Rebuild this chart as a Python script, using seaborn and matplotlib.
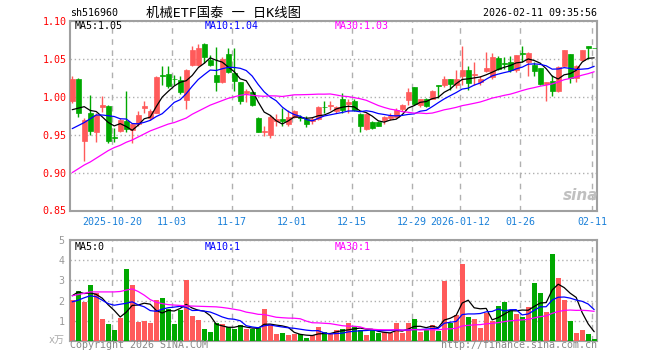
import numpy as np
import pandas as pd
import matplotlib
matplotlib.use("Agg")
import matplotlib.pyplot as plt
import seaborn as sns

# ---------------- data ----------------
holidays = ["2026-01-01", "2026-01-02"]
opens = [0.994, 1.024, 0.942, 0.978, 0.953, 0.986, 0.988, 0.947, 0.955, 0.968,
         0.956, 0.964, 0.985, 0.972, 0.979, 1.029, 1.030, 1.024, 1.022, 0.996,
         1.042, 1.042, 1.070, 1.049, 1.029, 1.020, 1.057, 1.031, 1.019, 1.005,
         1.006, 0.972, 0.954, 0.9495, 0.9675, 0.971, 0.9636, 0.9737, 0.974, 0.971,
         0.968, 0.971, 0.987, 0.988, 0.9811, 0.9974, 0.991, 0.9943, 0.977, 0.958,
         0.9667, 0.9667, 0.969, 0.972, 0.9737, 0.9833, 0.9956, 1.013, 0.9886, 0.9965,
         0.9974, 1.015, 1.016, 1.0237, 1.016, 1.028, 1.035, 1.029, 1.0193, 1.0338,
         1.026, 1.0513, 1.0443, 1.0456, 1.035, 1.0575, 1.0456, 1.0425, 1.038, 1.0163,
         1.0215, 1.0075, 1.041, 1.057, 1.025, 1.048, 1.0675, 1.065]
highs = [1.028, 1.025, 0.972, 1.002, 0.978, 1.001, 0.989, 0.959, 0.972, 1.007,
         0.966, 0.981, 0.994, 0.984, 1.027, 1.040, 1.041, 1.029, 1.027, 1.037,
         1.067, 1.069, 1.071, 1.055, 1.066, 1.053, 1.064, 1.064, 1.020, 1.0105,
         1.008, 0.974, 0.961, 0.976, 0.977, 0.9855, 0.983, 0.982, 0.9754, 0.9746,
         0.973, 0.988, 0.994, 0.994, 0.988, 1.0044, 0.997, 0.997, 0.978, 0.978,
         0.968, 0.968, 0.975, 0.978, 0.985, 0.990, 1.012, 1.0135, 0.997, 0.9987,
         1.009, 1.016, 1.027, 1.024, 1.035, 1.067, 1.041, 1.0456, 1.027, 1.059,
         1.058, 1.0535, 1.0526, 1.054, 1.0557, 1.0667, 1.059, 1.0456, 1.038, 1.0193,
         1.029, 1.041, 1.0623, 1.057, 1.0425, 1.0623, 1.0675, 1.065]
lows = [0.992, 0.974, 0.915, 0.950, 0.940, 0.980, 0.939, 0.940, 0.953, 0.953,
        0.939, 0.962, 0.979, 0.969, 0.978, 1.016, 1.012, 1.015, 1.004, 0.984,
        1.040, 1.040, 1.045, 1.040, 1.007, 1.018, 1.031, 1.0075, 0.991, 0.993,
        0.988, 0.953, 0.948, 0.946, 0.962, 0.961, 0.962, 0.972, 0.968, 0.960,
        0.964, 0.969, 0.979, 0.983, 0.979, 0.979, 0.979, 0.981, 0.9535, 0.956,
        0.957, 0.961, 0.9636, 0.970, 0.972, 0.981, 0.9886, 0.9886, 0.987, 0.987,
        0.9965, 0.9987, 1.013, 1.0096, 1.012, 1.016, 1.009, 1.016, 1.016, 1.0325,
        1.024, 1.035, 1.0368, 1.0325, 1.033, 1.0456, 1.0272, 1.027, 1.016, 0.994,
        1.001, 1.006, 1.040, 1.0184, 1.0193, 1.047, 1.050, 1.064]
closes = [1.024, 0.979, 0.969, 0.955, 0.976, 0.989, 0.942, 0.946, 0.970, 0.957,
          0.964, 0.976, 0.988, 0.981, 1.026, 1.027, 1.014, 1.023, 1.006, 1.036,
          1.062, 1.065, 1.052, 1.042, 1.020, 1.050, 1.0325, 1.0215, 0.995, 1.007,
          0.9886, 0.9535, 0.955, 0.9737, 0.971, 0.9675, 0.9737, 0.981, 0.9724, 0.9636,
          0.971, 0.987, 0.986, 0.989, 0.9868, 0.9825, 0.993, 0.9825, 0.9614, 0.9768,
          0.959, 0.962, 0.9737, 0.975, 0.9825, 0.9886, 1.006, 0.990, 0.9965, 0.9877,
          1.0075, 1.0145, 1.0237, 1.0175, 1.0237, 1.035, 1.0184, 1.030, 1.0237, 1.038,
          1.052, 1.037, 1.0439, 1.035, 1.0557, 1.057, 1.058, 1.0338, 1.0175, 1.0193,
          1.0075, 1.0395, 1.0614, 1.025, 1.041, 1.062, 1.0645, 1.0645]
volumes = [2.02, 2.47, 1.92, 2.76, 2.37, 1.08, 0.83, 0.53, 1.13, 3.56,
           2.76, 0.93, 0.98, 0.88, 2.02, 2.12, 1.57, 0.83, 1.52, 3.01,
           1.23, 1.03, 0.58, 0.43, 0.88, 0.83, 0.68, 0.58, 0.78, 0.58,
           0.58, 0.63, 1.57, 0.83, 0.33, 0.38, 0.28, 0.33, 0.33, 0.13,
           0.28, 0.68, 0.43, 0.33, 0.53, 0.58, 0.88, 0.68, 0.53, 0.28,
           0.53, 0.38, 0.43, 0.38, 0.88, 0.38, 0.88, 1.08, 0.43, 0.53,
           0.78, 0.48, 2.96, 0.88, 1.27, 3.81, 1.18, 1.08, 0.63, 1.37,
           0.98, 1.72, 1.92, 1.52, 1.32, 1.18, 1.67, 2.86, 2.37, 1.42,
           4.30, 3.11, 2.02, 0.98, 0.38, 0.53, 0.33, 0.08]

ma5_head = [0.983, 0.985, 0.987, 0.982]
ma10_head = [0.958, 0.962, 0.966, 0.971, 0.976, 0.976, 0.975, 0.974, 0.971]
ma30_head = [0.900, 0.905, 0.910, 0.914, 0.919, 0.924, 0.929, 0.933, 0.936, 0.940,
             0.943, 0.947, 0.951, 0.955, 0.958, 0.961, 0.964, 0.966, 0.969, 0.972,
             0.977, 0.981, 0.985, 0.989, 0.992, 0.995, 0.998, 1.000, 1.002]
vma5_head = [2.24, 2.43, 2.35, 2.38]
vma10_head = [1.94, 2.02, 2.14, 2.24, 2.19, 2.02, 1.85, 1.77, 1.82]
vma30_head = [2.24, 2.30, 2.36, 2.43, 2.43, 2.43, 2.43, 2.43, 2.45, 2.52,
              2.58, 2.45, 2.27, 2.05, 1.92, 1.85, 1.80, 1.78, 1.76, 1.74,
              1.73, 1.72, 1.71, 1.70, 1.69, 1.66, 1.62, 1.57, 1.52]

tick_dates = ["2025-10-20", "2025-11-03", "2025-11-17", "2025-12-01", "2025-12-15",
              "2025-12-29", "2026-01-12", "2026-01-26", "2026-02-11"]
tick_labels = ["2025-10-20", "11-03", "11-17", "12-01", "12-15",
               "12-29", "2026-01-12", "01-26", "02-11"]
price_ticks = [0.85, 0.90, 0.95, 1.00, 1.05, 1.10]
vol_ticks = [1, 2, 3, 4, 5]

# ---------------- prep ----------------
dates = pd.bdate_range("2025-10-09", "2026-02-11")
dates = dates[~dates.isin(pd.to_datetime(holidays))]
x = np.arange(len(dates))
O = np.array(opens); H = np.array(highs); L = np.array(lows); C = np.array(closes)
V = np.array(volumes)


def ma(arr, n, head):
    out = pd.Series(arr).rolling(n).mean().to_numpy()
    out[:len(head)] = head
    return out


ma5 = ma(C, 5, ma5_head); ma10 = ma(C, 10, ma10_head); ma30 = ma(C, 30, ma30_head)
vma5 = ma(V, 5, vma5_head); vma10 = ma(V, 10, vma10_head); vma30 = ma(V, 30, vma30_head)

RED = "#ff5a5a"
GREEN = "#00a800"
up = C >= O
colors = np.where(up, RED, GREEN)

sns.set_style("white")
plt.rcParams["font.family"] = ["DejaVu Sans Mono", "Noto Sans CJK SC"]
FS = 7.2

W, Hh = 660, 360
fig = plt.figure(figsize=(6.6, 3.6), dpi=100)


def fx(px):
    return px / W


def fy(py):
    return 1 - py / Hh


ax1 = fig.add_axes([fx(70), fy(210.5), (597 - 70) / W, 189.5 / Hh])
ax2 = fig.add_axes([fx(70), fy(341), (597 - 70) / W, 101 / Hh])

tick_idx = [int(np.where(dates == pd.Timestamp(d))[0][0]) - 0.33 for d in tick_dates]

for ax in (ax1, ax2):
    ax.set_xlim(-0.37, 87.47)
    for s in ax.spines.values():
        s.set_color("#a0a0a0")
        s.set_linewidth(1.5)
    ax.set_xticks(tick_idx)
    ax.grid(axis="x", color="#b0b0b0", linestyle=(0, (4, 4)), linewidth=1)
    ax.grid(axis="y", color="#b0b0b0", linestyle=(0, (1, 2)), linewidth=1)
    ax.tick_params(length=0)
    ax.set_axisbelow(True)

# candles
ax1.vlines(x, L, H, colors=colors, linewidth=1, zorder=2)
ax1.bar(x, np.abs(C - O), bottom=np.minimum(O, C), width=0.8, color=colors,
        edgecolor=colors, linewidth=0.5, zorder=3)
sns.lineplot(x=x, y=ma5, ax=ax1, color="black", linewidth=0.9, zorder=4)
sns.lineplot(x=x, y=ma10, ax=ax1, color="#0000ff", linewidth=0.9, zorder=4)
sns.lineplot(x=x, y=ma30, ax=ax1, color="#ff00ff", linewidth=0.9, zorder=4)
ax1.set_ylim(0.85, 1.10)
ax1.set_yticks(price_ticks)
ax1.set_yticklabels([f"{v:.2f}" for v in price_ticks], color="#ff0000", fontsize=FS)
ax1.set_xticklabels(tick_labels, color="#1a80d9", fontsize=FS)
ax1.tick_params(axis="y", pad=2.5)
ax1.tick_params(axis="x", pad=4.5)
ax1.set_xlabel(""); ax1.set_ylabel("")

# volume
ax2.bar(x, V, width=0.8, color=colors, linewidth=0, zorder=3)
sns.lineplot(x=x, y=vma5, ax=ax2, color="black", linewidth=0.9, zorder=4)
sns.lineplot(x=x, y=vma10, ax=ax2, color="#0000ff", linewidth=0.9, zorder=4)
sns.lineplot(x=x, y=vma30, ax=ax2, color="#ff00ff", linewidth=0.9, zorder=4)
ax2.set_ylim(0, 5)
ax2.set_yticks(vol_ticks)
ax2.set_yticklabels([str(v) for v in vol_ticks], color="#999999", fontsize=FS)
ax2.set_xticklabels([])
ax2.tick_params(axis="y", pad=4)
ax2.set_xlabel(""); ax2.set_ylabel("")

# texts
fig.text(fx(70), fy(13.3), "sh516960", fontsize=FS, va="center", ha="left", color="black")
fig.text(fx(224), fy(13), "机械ETF国泰 一 日K线图", fontsize=9.6, va="center", ha="center",
         color="black")
fig.text(fx(597), fy(13.3), "2026-02-11 09:35:56", fontsize=FS, va="center", ha="right",
         color="black")
fig.text(fx(75), fy(25.7), f"MA5:{ma5[-1]:.2f}", fontsize=FS, va="center", color="black")
fig.text(fx(204.7), fy(25.7), f"MA10:{ma10[-1]:.2f}", fontsize=FS, va="center", color="#0000ff")
fig.text(fx(335), fy(25.7), f"MA30:{ma30[-1]:.2f}", fontsize=FS, va="center", color="#ff00ff")
fig.text(fx(75), fy(246.5), f"MA5:{int(vma5[-1])}", fontsize=FS, va="center", color="black")
fig.text(fx(204.7), fy(246.5), f"MA10:{int(vma10[-1])}", fontsize=FS, va="center", color="#0000ff")
fig.text(fx(335), fy(246.5), f"MA30:{int(vma30[-1])}", fontsize=FS, va="center", color="#ff00ff")
fig.text(fx(70), fy(345.5), "Copyright 2026 SINA.COM", fontsize=FS, va="center", color="#888888")
fig.text(fx(597), fy(345.5), "http://finance.sina.com.cn", fontsize=FS, va="center", ha="right",
         color="#888888")
fig.text(fx(49), fy(340), "x万", fontsize=FS, va="center", ha="left", color="#aaaaaa")
fig.text(fx(581), fy(195), "sina", fontsize=11, va="center", ha="center", color="#c0c0c0",
         fontstyle="italic", fontweight="bold", family="DejaVu Sans")

fig.savefig("out.png", dpi=100)
